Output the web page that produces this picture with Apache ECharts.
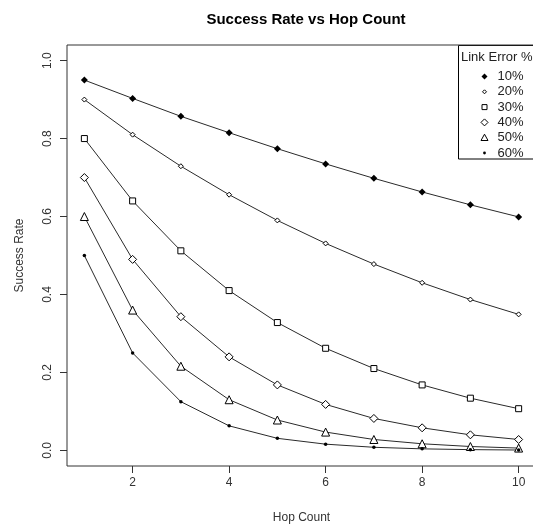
<!DOCTYPE html>
<html><head><meta charset="utf-8">
<script src="https://cdn.jsdelivr.net/npm/echarts@6/dist/echarts.min.js"></script>
<style>html,body{margin:0;padding:0;background:#fff;overflow:hidden;width:533px;height:529px}#c{width:545px;height:529px}</style>
</head><body><div id="c"></div>
<script>
var hops = [1,2,3,4,5,6,7,8,9,10];
var seriesNames = ['10%','20%','30%','40%','50%','60%'];
var rate10 = [0.950,0.903,0.857,0.815,0.774,0.735,0.698,0.663,0.630,0.599];
var rate20 = [0.900,0.810,0.729,0.656,0.590,0.531,0.478,0.430,0.387,0.349];
var rate30 = [0.800,0.640,0.512,0.410,0.328,0.262,0.210,0.168,0.134,0.107];
var rate40 = [0.700,0.490,0.343,0.240,0.168,0.118,0.082,0.058,0.040,0.028];
var rate50 = [0.600,0.360,0.216,0.130,0.078,0.047,0.028,0.017,0.010,0.006];
var rate60 = [0.500,0.250,0.125,0.063,0.031,0.016,0.008,0.004,0.002,0.001];
var xTicks = [2,4,6,8,10];
var yTicks = [0,0.2,0.4,0.6,0.8,1.0];

var allRates = [rate10,rate20,rate30,rate40,rate50,rate60];
var symbols = ['diamond','diamond','rect','diamond','triangle','circle'];
var filled = [true,false,false,false,false,true];
var sizes = [7,5,6,8,8,3.5];
// legend icons drawn inside a 10x10 box (the leading moves fix the box)
var legendIcons = [
  'path://M0,0M10,10M5,2L8,5L5,8L2,5Z',
  'path://M0,0M10,10M5,3L7,5L5,7L3,5Z',
  'path://M0,0M10,10M2.5,2.5L7.5,2.5L7.5,7.5L2.5,7.5Z',
  'path://M0,0M10,10M5,1.5L8.5,5L5,8.5L1.5,5Z',
  'path://M0,0M10,10M5,1.5L8.5,7.8L1.5,7.8Z',
  'path://M0,0M10,10M3.6,5A1.4,1.4,0,1,1,6.4,5A1.4,1.4,0,1,1,3.6,5Z'
];

var chart = echarts.init(document.getElementById('c'));
function style(i){
  return filled[i] ? {color:'#000', borderColor:'#000', borderWidth:0}
                   : {color:'#fff', borderColor:'#000', borderWidth:1};
}
var series = allRates.map(function(arr, i){
  return {
    name: seriesNames[i], type:'line',
    data: arr.map(function(v,j){return [hops[j], v];}),
    symbol: symbols[i], symbolSize: sizes[i], showAllSymbol:true,
    lineStyle:{color:'#2a2a2a', width:1},
    itemStyle: style(i),
    animation:false, silent:true
  };
});
var fontFam = 'Liberation Sans, Arial, sans-serif';
chart.setOption({
  animation:false,
  title:{text:'Success Rate vs Hop Count', left:301, textAlign:'center', top:7,
    textStyle:{fontFamily:fontFam, fontSize:15, fontWeight:'bold', color:'#000'}},
  grid:{left:67, top:45, width:469, height:423, show:true, borderColor:'#333', borderWidth:1, containLabel:false},
  xAxis:{type:'value', min:0.64, max:10.36, name:'Hop Count', nameLocation:'middle', nameGap:46,
    nameTextStyle:{fontFamily:fontFam, fontSize:12, color:'#333'},
    axisLine:{show:false, onZero:false}, splitLine:{show:false},
    axisTick:{show:true, length:7, lineStyle:{color:'#333'}, customValues:xTicks},
    axisLabel:{fontFamily:fontFam, fontSize:12, color:'#333', margin:11, customValues:xTicks}},
  yAxis:{type:'value', min:-0.04, max:1.04, name:'Success Rate', nameLocation:'middle', nameGap:41,
    nameTextStyle:{fontFamily:fontFam, fontSize:12, color:'#333'},
    axisLine:{show:false, onZero:false}, splitLine:{show:false},
    axisTick:{show:true, length:7, lineStyle:{color:'#333'}, customValues:yTicks},
    axisLabel:{fontFamily:fontFam, fontSize:12, color:'#333', margin:13, rotate:90,
      customValues:yTicks, formatter:function(v){return v.toFixed(1);}}},
  legend:{orient:'vertical', left:479, top:70, itemWidth:10, itemHeight:10, itemGap:2.3,
    borderWidth:0, padding:0, backgroundColor:'transparent',
    textStyle:{fontFamily:fontFam, fontSize:13, lineHeight:12, color:'#222', padding:[0,0,0,3]},
    data: seriesNames.map(function(n,i){return {name:n, icon:legendIcons[i], itemStyle:style(i)};}),
    selectedMode:false},
  graphic:[
    {type:'rect', shape:{x:458.5, y:45.5, width:80, height:113.5}, style:{fill:'#fff', stroke:'#000', lineWidth:1}, z:-1},
    {type:'text', x:461, y:51, style:{text:'Link Error %', font:'13px Liberation Sans, Arial, sans-serif', fill:'#222'}}
  ],
  series:series
});
</script></body></html>
